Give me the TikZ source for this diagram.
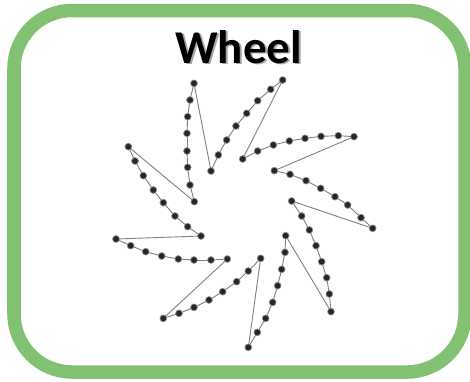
\documentclass[tikz,border=0pt]{standalone}
\usepackage{fontspec}
\newfontfamily\titlefont{Carlito}
\definecolor{framegreen}{RGB}{130,193,114}
\definecolor{edgegray}{RGB}{128,128,128}
\definecolor{shadowgray}{RGB}{165,165,165}
\newcommand{\shadowedword}[1]{\rlap{\raisebox{-1.7pt}{\hspace{2pt}\textcolor{shadowgray}{#1}}}#1}
\begin{document}
\begin{tikzpicture}[x=0.3333pt,y=-0.3333pt,
  dotnode/.style={circle,inner sep=0pt,minimum size=7pt},
  dotfill/.style={fill=black!85,draw=black!45,line width=0.7pt},
  edgeline/.style={draw=edgegray,line width=0.9pt},
  frame/.style={draw=framegreen,line width=13.5pt,rounded corners=58pt}]
\useasboundingbox (0,0) rectangle (1410,1143);
\fill[white] (0,0) rectangle (1410,1143);
\draw[frame] (42,31.5) rectangle (1395,1116);
% title with shadow (one text)
\node[anchor=base] (title) at (716,189) {\titlefont\bfseries\fontsize{47}{50}\selectfont\shadowedword{Wheel}};
% dots: spokes a..i, index 1 = inner end, 8 = outer end
\foreach \s/\pts in {
 a/{583/605,570/555,563/502,561/453,561/400,563/350,570/300,582/250},
 b/{633/513,655/465,680/420,708/378,740/340,773/302,812/268,848/240},
 c/{728/477,773/453,820/435,868/423,915/415,963/409,1015/407,1062/410},
 d/{823/512,870/523,918/542,962/565,1005/590,1043/615,1083/653,1118/685},
 e/{875/603,905/648,928/690,948/737,965/785,980/833,988/882,993/935},
 f/{857/707,855/757,845/808,833/857,818/907,797/955,772/997,745/1042},
 g/{782/775,745/813,710/845,668/875,627/900,582/922,537/940,490/955},
 h/{682/777,633/780,582/780,535/777,485/768,437/755,392/737,348/717},
 i/{603/708,563/680,525/648,490/608,460/570,430/527,405/483,385/440}}{
  \foreach \x/\y [count=\k] in \pts {
    \node[dotnode] (\s\k) at (\x,\y) {};
  }
}
% connectors
\foreach \s/\t in {a/b,b/c,c/d,d/e,e/f,f/g,g/h,h/i,i/a}{
  \foreach \k [evaluate=\k as \n using int(\k+1)] in {1,...,7}{
    \draw[edgeline] (\s\k.center) -- (\s\n.center);
  }
  \draw[edgeline] (\s8.center) -- (\t1.center);
}
% dots drawn on top of the connectors
\foreach \s in {a,b,c,d,e,f,g,h,i}{
  \foreach \k in {1,...,8}{
    \path[dotfill] (\s\k.center) circle (3.4pt);
  }
}
\end{tikzpicture}
\end{document}
